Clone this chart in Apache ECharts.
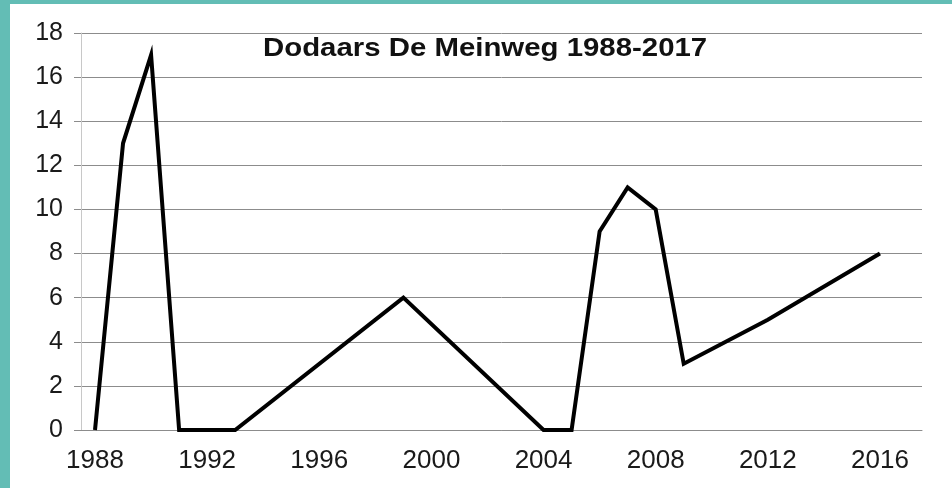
<!DOCTYPE html>
<html>
<head>
<meta charset="utf-8">
<script src="https://cdn.jsdelivr.net/npm/echarts@6/dist/echarts.min.js"></script>
<style>
  html, body { margin: 0; padding: 0; width: 952px; height: 488px; background: #63bdb5; overflow: hidden; }
  #chart { position: absolute; left: 10px; top: 4px; width: 942px; height: 484px; background: #fff; }
</style>
</head>
<body>
<div id="chart"></div>
<script>
// jaren en tellingen (null = geen telling, lijn loopt door)
var years = ['1988', '1989', '1990', '1991', '1992', '1993', '1994', '1995', '1996', '1997',
  '1998', '1999', '2000', '2001', '2002', '2003', '2004', '2005', '2006', '2007',
  '2008', '2009', '2010', '2011', '2012', '2013', '2014', '2015', '2016', '2017'];
var counts = [0, 13, 17, 0, 0, 0, null, null, null, null,
  null, 6, null, null, null, null, 0, 0, 9, 11,
  10, 3, null, null, 5, null, null, null, 8, null];
var yTicks = [0, 18, 2]; // min, max, stap

var chart = echarts.init(document.getElementById('chart'));
var fontFam = '"Liberation Sans", Arial, sans-serif';

var option = {
  animation: false,
  // titel als losse tekst, iets breder getrokken zoals in het origineel
  graphic: [
    {
      type: 'text',
      x: 253,
      y: 32,
      scaleX: 1.13,
      style: {
        text: 'Dodaars De Meinweg 1988-2017',
        fontFamily: fontFam,
        fontSize: 26,
        fontWeight: 'bold',
        fill: '#111',
        textAlign: 'left',
        textVerticalAlign: 'top'
      }
    }
  ],
  grid: {
    left: 71,
    right: 30,
    top: 29,
    bottom: 58
  },
  xAxis: {
    type: 'category',
    data: years,
    boundaryGap: true,
    axisLine: { lineStyle: { color: '#8c8c8c', width: 1 } },
    axisTick: { interval: 3, length: 5, lineStyle: { color: '#8c8c8c' } },
    axisLabel: {
      interval: 3,
      margin: 18,
      fontFamily: fontFam,
      fontSize: 26,
      color: '#1a1a1a'
    },
    splitLine: { show: false }
  },
  yAxis: {
    type: 'value',
    min: yTicks[0],
    max: yTicks[1],
    interval: yTicks[2],
    axisLine: { show: true, lineStyle: { color: '#c8c8c8', width: 1 } },
    axisTick: { show: true, length: 7, lineStyle: { color: '#8c8c8c' } },
    axisLabel: {
      margin: 18,
      fontFamily: fontFam,
      fontSize: 25,
      color: '#1a1a1a'
    },
    splitLine: { lineStyle: { color: '#8c8c8c', width: 1 } }
  },
  series: [
    {
      name: 'Dodaars',
      type: 'line',
      data: counts,
      connectNulls: true,
      symbol: 'none',
      lineStyle: { color: '#000', width: 4, join: 'miter' }
    }
  ]
};
chart.setOption(option);
</script>
</body>
</html>
